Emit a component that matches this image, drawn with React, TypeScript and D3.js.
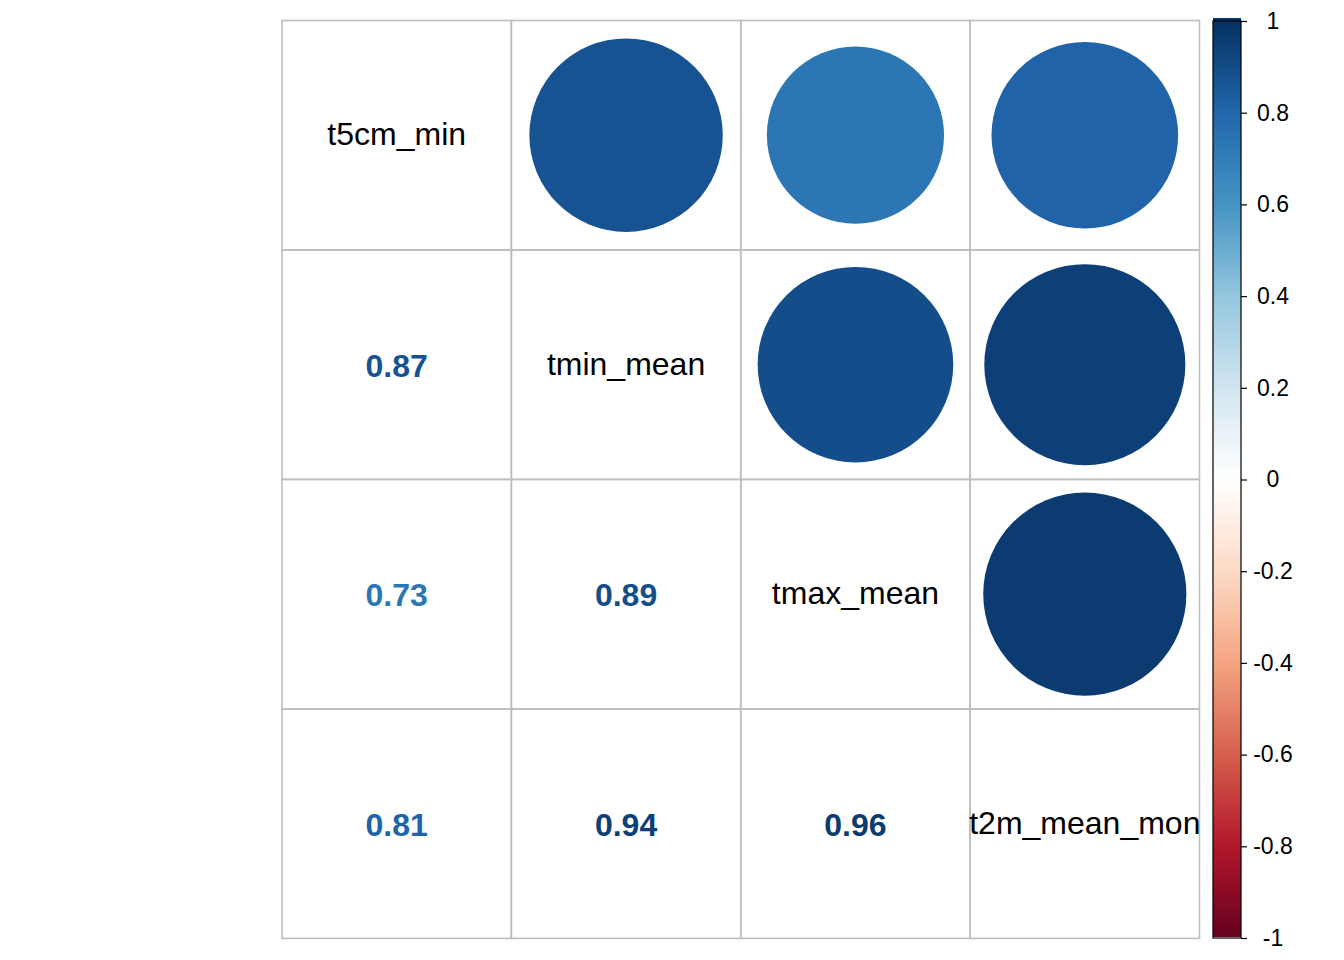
import React, { useEffect, useRef } from 'react';
import * as d3 from 'd3';

const variables = ['t5cm_min', 'tmin_mean', 'tmax_mean', 't2m_mean_mon'];

// lower-triangle correlations, row by row
const corrRow1 = [1, 0.87, 0.73, 0.81];
const corrRow2 = [0.87, 1, 0.89, 0.94];
const corrRow3 = [0.73, 0.89, 1, 0.96];
const corrRow4 = [0.81, 0.94, 0.96, 1];
const corrMatrix = [corrRow1, corrRow2, corrRow3, corrRow4];

const legendTicks = [1, 0.8, 0.6, 0.4, 0.2, 0, -0.2, -0.4, -0.6, -0.8, -1];

const rdBu = ['#67001F', '#B2182B', '#D6604D', '#F4A582', '#FDDBC7', '#FFFFFF',
  '#D1E5F0', '#92C5DE', '#4393C3', '#2166AC', '#053061'];

const W = 1344;
const H = 960;

const App: React.FC = () => {
  const svgRef = useRef<SVGSVGElement>(null);

  useEffect(() => {
    if (!svgRef.current) return;
    const svg = d3.select(svgRef.current);
    svg.selectAll('*').remove();

    const left = 282, top = 20.5, right = 1199.5, bottom = 938.5;
    const n = variables.length;

    const x = d3.scaleBand<number>().domain(d3.range(n)).range([left, right]);
    const y = d3.scaleBand<number>().domain(d3.range(n)).range([top, bottom]);
    const cell = x.bandwidth();

    const color = d3.scaleLinear<string>()
      .domain(d3.range(rdBu.length).map(i => -1 + (2 * i) / (rdBu.length - 1)))
      .range(rdBu)
      .interpolate(d3.interpolateRgb);

    const radius = d3.scaleSqrt().domain([0, 1]).range([0, cell * 0.452]);

    const g = svg.append('g');

    const cells: { i: number; j: number; v: number }[] = [];
    corrMatrix.forEach((row, i) => row.forEach((v, j) => cells.push({ i, j, v })));

    // circles in upper triangle
    g.selectAll('.circle')
      .data(cells.filter(d => d.j > d.i))
      .enter()
      .append('circle')
      .attr('cx', d => x(d.j)! + cell / 2)
      .attr('cy', d => y(d.i)! + cell / 2)
      .attr('r', d => radius(Math.abs(d.v)))
      .attr('fill', d => color(d.v));

    // grid
    g.selectAll('.cellrect')
      .data(cells)
      .enter()
      .append('rect')
      .attr('x', d => x(d.j)!)
      .attr('y', d => y(d.i)!)
      .attr('width', cell)
      .attr('height', cell)
      .attr('fill', 'none')
      .attr('stroke', '#bebebe')
      .attr('stroke-width', 1.6);

    // numbers in lower triangle
    g.selectAll('.num')
      .data(cells.filter(d => d.j < d.i))
      .enter()
      .append('text')
      .attr('x', d => x(d.j)! + cell / 2)
      .attr('y', d => y(d.i)! + cell / 2 + 1)
      .attr('text-anchor', 'middle')
      .attr('dominant-baseline', 'central')
      .attr('font-family', 'Liberation Sans, Arial, sans-serif')
      .attr('font-weight', 'bold')
      .attr('font-size', 32)
      .attr('fill', d => color(d.v))
      .text(d => d.v.toFixed(2));

    // diagonal labels
    g.selectAll('.diag')
      .data(variables)
      .enter()
      .append('text')
      .attr('x', (_, i) => x(i)! + cell / 2)
      .attr('y', (_, i) => y(i)! + cell / 2 - 1)
      .attr('text-anchor', 'middle')
      .attr('dominant-baseline', 'central')
      .attr('font-family', 'Liberation Sans, Arial, sans-serif')
      .attr('font-size', 32)
      .attr('fill', 'black')
      .text(d => d);

    // color legend
    const lx0 = 1213, lx1 = 1241;
    const ly = d3.scaleLinear().domain([-1, 1]).range([938, 21]);
    const steps = d3.range(200).map(k => -1 + (2 * k + 1) / 200);
    const lg = svg.append('g');
    lg.selectAll('.bin')
      .data(steps)
      .enter()
      .append('rect')
      .attr('x', lx0)
      .attr('width', lx1 - lx0)
      .attr('y', d => ly(d + 0.01) - 0.5)
      .attr('height', Math.abs(ly(0.01) - ly(0)) + 1.5)
      .attr('shape-rendering', 'crispEdges')
      .attr('fill', d => color(d));
    lg.append('rect')
      .attr('x', lx0)
      .attr('y', ly(1))
      .attr('width', lx1 - lx0)
      .attr('height', ly(-1) - ly(1))
      .attr('fill', 'none')
      .attr('stroke', 'black')
      .attr('stroke-width', 1.2);

    const axis = d3.axisRight(ly)
      .tickValues(legendTicks)
      .tickSize(6)
      .tickFormat(d => `${d}`);
    const ag = lg.append('g').attr('transform', `translate(${lx1},0)`).call(axis);
    ag.select('.domain').remove();
    ag.selectAll('line').attr('stroke', 'black').attr('stroke-width', 1.2);
    ag.selectAll('text')
      .attr('x', 32)
      .attr('text-anchor', 'middle')
      .attr('font-family', 'Liberation Sans, Arial, sans-serif')
      .attr('font-size', 23)
      .attr('fill', 'black');
  }, []);

  return (
    <svg
      ref={svgRef}
      width={W}
      height={H}
      style={{ position: 'absolute', left: 0, top: 0, background: 'white', display: 'block' }}
    />
  );
};

export default App;
